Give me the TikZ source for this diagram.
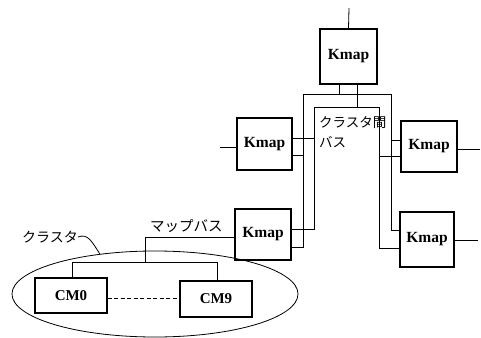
\documentclass[tikz,border=0pt]{standalone}
\usepackage{fontspec}
\setmainfont{Liberation Serif}
\newfontfamily\jp{Noto Sans CJK JP}
\usetikzlibrary{shapes.geometric}
\begin{document}
\begin{tikzpicture}[x=1pt,y=-1pt,
  kbox/.style={draw,line width=1.5pt,inner sep=0pt,font=\bfseries\fontsize{15.5}{16}\selectfont},
  cmbox/.style={draw,line width=1.1pt,inner sep=0pt,minimum width=72pt,minimum height=35pt,font=\bfseries\fontsize{15}{15}\selectfont},
  bus/.style={line width=0.8pt},
  jlab/.style={inner sep=0pt,font=\jp\fontsize{13.5}{14}\selectfont}]
\useasboundingbox (0,0) rectangle (481,337);
% Kmap boxes
\node[kbox,minimum width=57pt,minimum height=55pt] (k0) at (348.5,56.5) {Kmap};
\node[kbox,minimum width=55pt,minimum height=52pt] (k1) at (264.5,144) {Kmap};
\node[kbox,minimum width=56pt,minimum height=51pt] (k2) at (429,146.5) {Kmap};
\node[kbox,minimum width=56pt,minimum height=51pt] (k3) at (263,234.5) {Kmap};
\node[kbox,minimum width=54pt,minimum height=55pt] (k4) at (427,239.5) {Kmap};
% external stubs
\coordinate (t0) at (349,8);
\coordinate (t1) at (220,147);
\coordinate (t2) at (480,149);
\coordinate (t4) at (478,240);
\draw[bus] (t0) -- (k0.north);
\draw[bus] (t1) -- (t1 -| k1.west);
\draw[bus] (t2) -- (t2 -| k2.east);
\draw[bus] (t4) -- (t4 -| k4.east);
% outer bus
\draw[bus] (k3.east |- 0,247) -- (303,247) -- (303,94) -- (391,94) -- (391,230) -- (k4.west |- 0,230);
% inner bus
\draw[bus] (k3.east |- 0,229) -- (314,229) -- (314,107) -- (379,107) -- (379,248) -- (k4.west |- 0,248);
% top connections
\draw[bus] (k0.south -| 339,0) -- (339,94);
\draw[bus] (k0.south -| 357,0) -- (357,107);
% k1 connections
\draw[bus] (k1.east |- 0,138) -- (314,138);
\draw[bus] (k1.east |- 0,155) -- (303,155);
% k2 connections
\draw[bus] (391,140) -- (k2.west |- 0,140);
\draw[bus] (379,156) -- (k2.west |- 0,156);
% bus label
\node[jlab,anchor=west] (ib1) at (319,123) {クラスタ間};
\node[jlab,anchor=west] (ib2) at (319,142) {バス};
% cluster
\node[draw,ellipse,line width=0.8pt,minimum width=286pt,minimum height=86pt,inner sep=0pt] (cl) at (155,294) {};
\node[cmbox] (cm0) at (71,295.5) {CM0};
\node[cmbox,minimum height=36pt] (cm9) at (216,299) {CM9};
\draw[bus,dashed,dash pattern=on 4pt off 2.5pt] (cm0.east |- 0,298) -- (cm9.west |- 0,298);
% map bus
\coordinate (mb) at (145,262);
\draw[bus] (k3.west |- 0,237) -- (145,237) -- (mb);
\draw[bus] (cm0.north -| 72,0) -- (72,262) -- (217,262) -- (cm9.north -| 217,0);
\node[jlab,anchor=west,font=\jp\fontsize{14.5}{15}\selectfont] (mbl) at (150,226) {マップバス};
% cluster label
\node[jlab,font=\jp\fontsize{14}{14}\selectfont] (cll) at (50,237) {クラスタ};
\draw[bus] (cll.east) .. controls (88,233) and (92,242) .. (cl.144);
\end{tikzpicture}
\end{document}
